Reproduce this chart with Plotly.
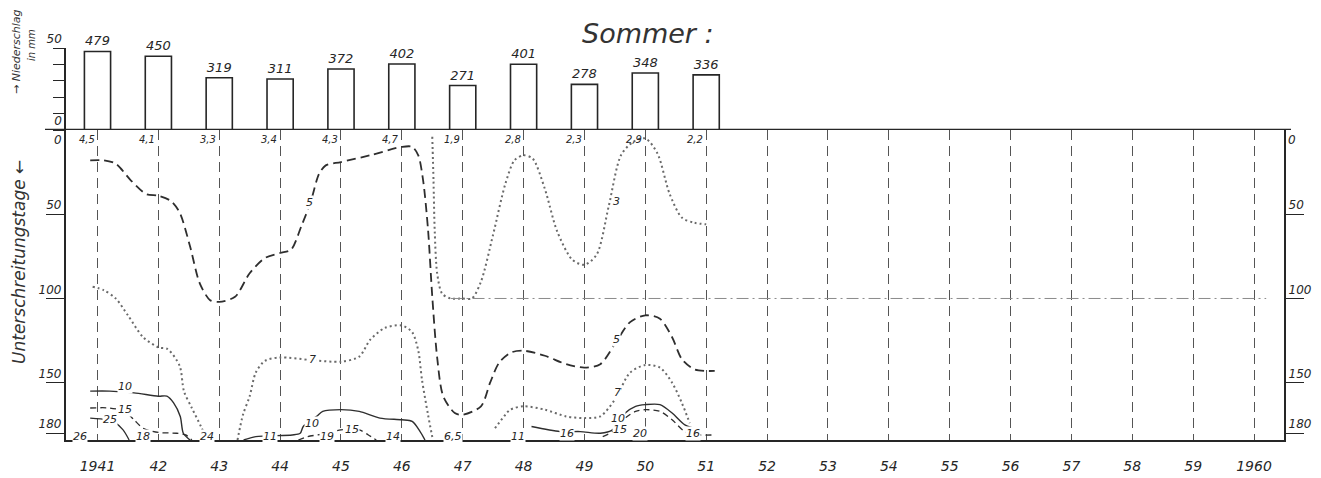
import plotly.graph_objects as go

# ---- axes / categories ----
years = list(range(1941, 1961))
year_labels = ["1941"] + [str(y % 100) for y in range(1942, 1960)] + ["1960"]

# ---- summer precipitation (bars) ----
bar_years = list(range(1941, 1952))
precip_mm = [479, 450, 319, 311, 372, 402, 271, 401, 278, 348, 336]
mean_labels = ["4,5", "4,1", "3,3", "3,4", "4,3", "4,7", "1,9", "2,8", "2,3", "2,9", "2,2"]

# ---- days below threshold, isolines ----
c5_x = [1940.88, 1941.1, 1941.3, 1941.55, 1941.8, 1942.0, 1942.2, 1942.35, 1942.52, 1942.68,
        1942.85, 1943.0, 1943.26, 1943.5, 1943.75, 1944.0, 1944.18, 1944.35, 1944.5, 1944.64,
        1944.75, 1945.0, 1945.48, 1946.0, 1946.17, 1946.27, 1946.35, 1946.43, 1946.5, 1946.58,
        1946.68, 1946.87, 1947.0, 1947.3, 1947.45, 1947.6, 1947.8, 1948.0, 1948.35, 1948.7,
        1949.0, 1949.26, 1949.5, 1949.75, 1950.0, 1950.24, 1950.44, 1950.6, 1950.8, 1951.0, 1951.14]
c5_y = [18, 18, 20, 30, 38, 39, 42, 49, 69, 91,
        101, 102, 99, 85, 76, 73, 71, 57, 43, 26,
        21, 19, 15, 10, 10, 15, 30, 59, 99, 135,
        158, 168, 169, 164, 150, 138, 132, 131, 134, 139,
        141, 139, 127, 114, 110, 112, 123, 136, 142, 143, 143]

c3_x = [1946.5, 1946.52, 1946.54, 1946.58, 1946.66, 1946.8, 1947.0, 1947.15, 1947.3, 1947.5,
        1947.7, 1947.85, 1948.0, 1948.15, 1948.35, 1948.55, 1948.8, 1949.0, 1949.2, 1949.4,
        1949.6, 1949.8, 1950.0, 1950.2, 1950.4, 1950.6, 1950.8, 1951.0]
c3_y = [4, 30, 60, 85, 97, 100, 100, 100, 90, 62,
        32, 18, 15, 17, 35, 60, 77, 80, 74, 45,
        15, 7, 5, 14, 38, 52, 55, 56]

c7_x = [1940.92, 1941.1, 1941.3, 1941.5, 1941.75, 1942.0, 1942.15, 1942.35, 1942.42, 1942.55,
        1942.7, 1942.8, None,
        1943.3, 1943.39, 1943.5, 1943.6, 1943.75, 1944.0, 1944.5, 1945.0, 1945.3, 1945.48,
        1945.72, 1946.0, 1946.17, 1946.27, 1946.33, 1946.43, 1946.51, None,
        1947.53, 1947.7, 1947.78, 1948.0, 1948.35, 1948.7, 1949.0, 1949.26, 1949.5, 1949.75,
        1950.0, 1950.24, 1950.44, 1950.6, 1950.73]
c7_y = [93, 95, 100, 110, 123, 129, 130, 140, 155, 165,
        176, 184, None,
        184, 169, 158, 144, 137, 135, 136.5, 137.5, 134.5, 124.5,
        117.5, 116, 120, 131, 148, 169, 184, None,
        177, 169, 166, 164, 166, 170, 171, 170, 160, 144,
        139.5, 141, 150, 162, 174]

c10_x = [1940.88, 1941.2, 1941.6, 1942.0, 1942.14, 1942.25, 1942.36, 1942.41, 1942.52, None,
         1943.4, 1943.6, 1944.2, 1944.33, 1944.38, 1944.6, 1944.7, 1945.0, 1945.3, 1945.64,
         1946.0, 1946.17, 1946.3, 1946.38, None,
         1948.13, 1948.6, 1948.93, 1949.26, 1949.46, 1949.67, 1949.84, 1950.0, 1950.24,
         1950.44, 1950.65, 1950.85]
c10_y = [155, 155, 156, 158, 158, 162, 170, 180, 184, None,
         184, 182, 181, 180, 176, 170, 167, 166, 167, 171,
         172, 173, 179, 184, None,
         176, 179, 179, 180, 178, 168, 164, 163, 163,
         168, 175, 177.5]

c15_x = [1940.88, 1941.2, 1941.45, 1941.6, 1941.75, 1942.0, 1942.3, 1942.45, 1942.55, None,
         1944.3, 1944.45, 1944.7, 1945.0, 1945.3, 1945.45, 1945.58, None,
         1949.3, 1949.46, 1949.67, 1949.84, 1950.0, 1950.24, 1950.44, 1950.65, 1950.9, 1951.1]
c15_y = [165, 165, 167, 172, 177, 179.5, 180, 181, 184, None,
         184, 182, 180.5, 178, 178, 181, 184, None,
         182, 179, 171, 167, 166, 167, 172, 179, 181, 181]

c25_x = [1940.88, 1941.15, 1941.3, 1941.42, 1941.52]
c25_y = [171, 172, 174, 178, 184]

# reference line at 100 days
ref_x = [1946.8, 1960.2]
ref_y = [100, 100]

# labels written along the isolines
iso_text = ["5", "5", "3", "7", "7", "10", "15", "25", "26", "18", "24", "11", "10", "19",
            "15", "14", "6,5", "11", "16", "10", "15", "20", "16"]
iso_x = [1944.49, 1949.53, 1949.53, 1944.53, 1949.55, 1941.45, 1941.45, 1941.2, 1940.71,
         1941.75, 1942.8, 1943.84, 1944.53, 1944.77, 1945.18, 1945.85, 1946.84, 1947.91,
         1948.71, 1949.55, 1949.58, 1949.91, 1950.78]
iso_y = [43, 124.6, 42.7, 136.5, 156, 152.5, 166, 172, 182, 182, 182, 182, 174.5, 182,
         178, 182, 182, 182, 180, 171, 178, 180, 180]

INK = "#262626"
FONT = "DejaVu Sans"
W, H = 1321, 478

X_RANGE = [1940.4825, 1960.4925]
X_DOM = [66 / W, 1284 / W]
LOW_DOM = [1 - 440 / H, 1 - 130 / H]
UP_DOM = [1 - 130 / H, 1 - 48 / H]

fig = go.Figure()

fig.add_trace(go.Bar(
    x=bar_years, y=precip_mm, width=0.43,
    marker=dict(color="white", line=dict(color=INK, width=1.6)),
    text=precip_mm, texttemplate="%{y}", textposition="outside",
    textfont=dict(family=FONT, size=13, color=INK, style="italic"),
    cliponaxis=False, xaxis="x2", yaxis="y2", hoverinfo="skip",
))

def iso(x, y, dash, width, color):
    fig.add_trace(go.Scatter(
        x=x, y=y, mode="lines", connectgaps=False,
        line=dict(shape="spline", smoothing=0.8, dash=dash, width=width, color=color),
        hoverinfo="skip",
    ))

iso(c5_x, c5_y, "9px,5px", 1.8, "#2e2e2e")
iso(c3_x, c3_y, "2px,3px", 2.0, "#6a6a6a")
iso(c7_x, c7_y, "2px,3px", 2.0, "#6a6a6a")
iso(c10_x, c10_y, "solid", 1.4, "#2e2e2e")
iso(c15_x, c15_y, "6px,4px", 1.3, "#2e2e2e")
iso(c25_x, c25_y, "solid", 1.3, "#2e2e2e")

fig.add_trace(go.Scatter(
    x=ref_x, y=ref_y, mode="lines", yaxis="y3",
    line=dict(dash="12px,4px,2px,4px", width=1, color="#8a8a8a"), hoverinfo="skip",
))

def note(text, x, y, xref, yref, size, angle=0, bg=None, color=INK, weight="normal"):
    d = dict(x=x, y=y, xref=xref, yref=yref, text=text, showarrow=False,
             xanchor="center", yanchor="middle", textangle=angle,
             font=dict(family=FONT, size=size, color=color, style="italic", weight=weight))
    if bg:
        d.update(bgcolor=bg, borderpad=0)
    return d

ann = []
for t, xv, yv in zip(iso_text, iso_x, iso_y):
    ann.append(note(t, xv, yv, "x", "y", 11, bg="white"))
for yr, lab in zip(bar_years, mean_labels):
    ann.append(note(lab, yr - 0.18, 5.5, "x", "y", 10))

# zero labels just below the top frame line
ann.append(note("0", 58 / W, 6, "paper", "y", 12))
ann.append(note("0", 1292 / W, 6, "paper", "y", 12))

ann.append(note("Sommer :", 648 / W, 1 - 33 / H, "paper", "paper", 27, color="#333333"))
ann.append(note("Unterschreitungstage \u2190", 19 / W, 1 - 262 / H, "paper", "paper", 17,
                angle=-90, color="#333333"))
ann.append(note("\u2192 Niederschlag", 17 / W, 1 - 52 / H, "paper", "paper", 11,
                angle=-90, color="#333333"))
ann.append(note("in mm", 31 / W, 1 - 45 / H, "paper", "paper", 10, angle=-90, color="#333333"))

tickfont = dict(family=FONT, size=12, color=INK, style="italic")

fig.update_layout(
    width=W, height=H, margin=dict(l=0, r=0, t=0, b=0, autoexpand=False),
    paper_bgcolor="white", plot_bgcolor="white", showlegend=False,
    font=dict(family=FONT, color=INK),
    annotations=ann,
    xaxis=dict(domain=X_DOM, range=X_RANGE, anchor="y", automargin=False,
               tickvals=years, ticktext=year_labels, ticks="",
               tickfont=dict(family=FONT, size=14, color=INK, style="italic"),
               ticklabelstandoff=12,
               showgrid=True, gridcolor="#555555", griddash="10px,6px", gridwidth=1,
               showline=True, linecolor=INK, linewidth=2.2, zeroline=False),
    yaxis=dict(domain=LOW_DOM, range=[184, 0], anchor="x", automargin=False,
               tickvals=[50, 100, 150, 180], ticktext=["50", "100", "150", "180"],
               ticks="outside", ticklen=18, tickcolor=INK, tickwidth=1.2,
               ticklabelposition="outside top", ticklabelstandoff=0,
               tickfont=tickfont, showgrid=False, zeroline=False,
               showline=True, linecolor=INK, linewidth=2.2),
    yaxis3=dict(range=[184, 0], overlaying="y", side="right", anchor="x", automargin=False,
                tickvals=[50, 100, 150, 180], ticktext=["50", "100", "150", "180"],
                ticks="outside", ticklen=18, tickcolor=INK, tickwidth=1.2,
                ticklabelposition="outside top", ticklabelstandoff=0,
                tickfont=tickfont, showgrid=False, zeroline=False,
                showline=True, linecolor=INK, linewidth=2.2),
    xaxis2=dict(domain=X_DOM, range=X_RANGE, anchor="y2", matches="x", visible=False,
                automargin=False),
    yaxis2=dict(domain=UP_DOM, range=[0, 500], anchor="x2", automargin=False,
                tickvals=[0, 100, 200, 300, 400, 500], ticktext=["0", "", "", "", "", "50"],
                ticks="outside", ticklen=11, tickcolor=INK, tickwidth=1.2,
                ticklabelposition="outside top",
                tickfont=tickfont, showgrid=False, zeroline=False,
                showline=True, linecolor=INK, linewidth=1.6),
    shapes=[dict(type="line", xref="paper", yref="y2", x0=45 / W, x1=1291 / W, y0=0, y1=0,
                 line=dict(color=INK, width=2.6))],
)

fig.write_html("out.html")
